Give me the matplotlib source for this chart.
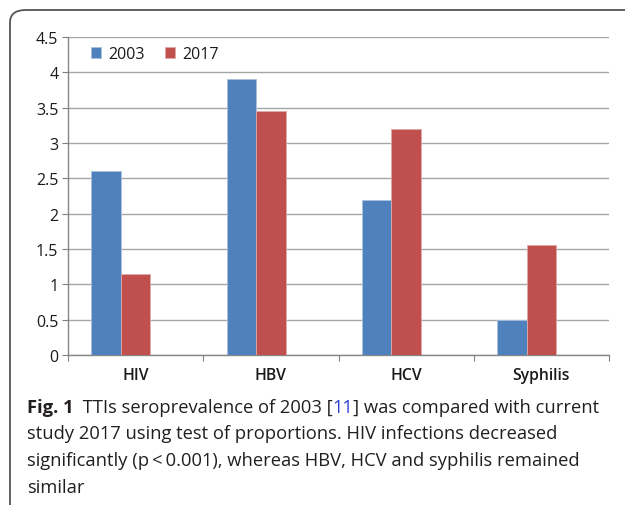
import numpy as np
import matplotlib
matplotlib.use("Agg")
import matplotlib.pyplot as plt
from matplotlib.patches import FancyBboxPatch

# data
categories = ["HIV", "HBV", "HCV", "Syphilis"]
years = ["2003", "2017"]
vals_2003 = [2.6, 3.9, 2.2, 0.5]
vals_2017 = [1.15, 3.45, 3.2, 1.55]
yticks = [0, 0.5, 1, 1.5, 2, 2.5, 3, 3.5, 4, 4.5]
ytick_labels = ["0", "0.5", "1", "1.5", "2", "2.5", "3", "3.5", "4", "4.5"]

caption_lines = [
    "study 2017 using test of proportions. HIV infections decreased",
    "significantly (p\u2009<\u20090.001), whereas HBV, HCV and syphilis remained",
    "similar",
]

W, H = 625, 506
fig = plt.figure(figsize=(W / 100, H / 100), dpi=100)

# outer frame (rounded, runs off the right and bottom edge)
frame = FancyBboxPatch((10 / W, -20 / H), 700 / W, (H - 11 + 20) / H,
                       boxstyle="round,pad=0,rounding_size=0.025",
                       transform=fig.transFigure, fill=False,
                       edgecolor="#555555", linewidth=1.3)
fig.patches.append(frame)

ax = fig.add_axes([68 / W, (H - 356) / H, 541 / W, 318 / H])

x = np.arange(len(categories))
bw = 29.5 / 135
blue = "#4F81BD"
red = "#C0504D"
ax.bar(x - bw, vals_2003, bw, color=blue, edgecolor="#a9c0de",
       linewidth=0.6, label=years[0], zorder=3)
ax.bar(x, vals_2017, bw, color=red, edgecolor="#e0a9a8",
       linewidth=0.6, label=years[1], zorder=3)

ax.set_xlim(-0.5, 3.5)
ax.set_ylim(0, 4.5)
ax.set_yticks(yticks)
ax.set_yticklabels(ytick_labels)
ax.set_xticks(np.arange(-0.5, 3.6, 1))
ax.set_xticklabels([])
ax.set_xticks(x, minor=True)
ax.set_xticklabels(categories, minor=True, fontfamily="Open Sans",
                   fontweight="semibold", fontsize=11.3, color="#1a1a1a")
ax.tick_params(axis="x", which="minor", length=0, pad=9)
ax.tick_params(axis="x", which="major", length=4, color="#808080", direction="out")
ax.tick_params(axis="y", length=4, color="#808080", direction="out", pad=3)
for lab in ax.get_yticklabels():
    lab.set_fontfamily("Open Sans")
    lab.set_fontsize(11.5)
    lab.set_color("#1a1a1a")

ax.grid(axis="y", color="#a6a6a6", linewidth=1.0, zorder=0)
ax.set_axisbelow(True)
for s in ["top", "right"]:
    ax.spines[s].set_visible(False)
for s in ["left", "bottom"]:
    ax.spines[s].set_color("#868686")
    ax.spines[s].set_linewidth(1.0)

ax.legend(loc="center left", bbox_to_anchor=(0.016, 0.9465), ncol=2,
          frameon=False, handlelength=0.65, handleheight=0.65,
          handletextpad=0.4, columnspacing=1.3,
          prop={"family": "Open Sans", "size": 11.5}, labelcolor="#1a1a1a")

# caption
cap_color = "#231f20"
fs = 13.2
t0 = fig.text(27 / W, 1 - 408 / H, "Fig. 1", fontfamily="Open Sans",
              fontweight="bold", fontsize=fs, color=cap_color, va="center")
t1 = ax.annotate(" TTIs seroprevalence of 2003 [", xy=(1, 0), xycoords=t0,
                 xytext=(3, 0), textcoords="offset points", va="bottom",
                 fontfamily="Open Sans", fontsize=fs, color=cap_color,
                 annotation_clip=False)
t2 = ax.annotate("11", xy=(1, 0), xycoords=t1, va="bottom",
                 fontfamily="Open Sans", fontsize=fs, color="#2b3fd6",
                 annotation_clip=False)
t3 = ax.annotate("] was compared with current", xy=(1, 0), xycoords=t2,
                 va="bottom", fontfamily="Open Sans", fontsize=fs,
                 color=cap_color, annotation_clip=False)
for i, line in enumerate(caption_lines):
    fig.text(27 / W, 1 - (434 + 27 * i) / H, line, fontfamily="Open Sans",
             fontsize=fs, color=cap_color, va="center")

fig.savefig("out.png", dpi=100)
